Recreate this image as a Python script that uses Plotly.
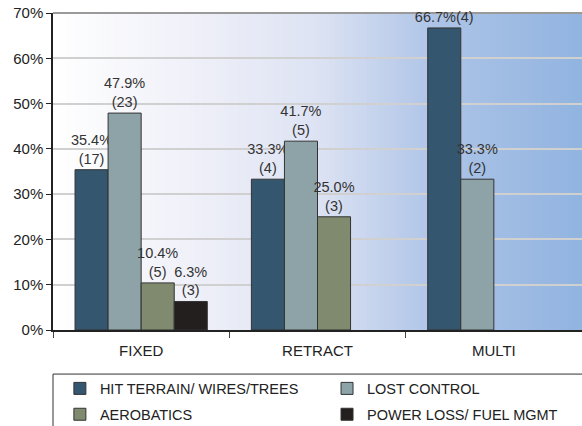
import plotly.graph_objects as go

categories = ["FIXED", "RETRACT", "MULTI"]
series_names = ["HIT TERRAIN/ WIRES/TREES", "LOST CONTROL", "AEROBATICS", "POWER LOSS/ FUEL MGMT"]
hit_terrain = [35.4, 33.3, 66.7]
lost_control = [47.9, 41.7, 33.3]
aerobatics = [10.4, 25.0, None]
power_loss = [6.3, None, None]
hit_counts = [17, 4, 4]
lost_counts = [23, 5, 2]
aero_counts = [5, 3, None]
power_counts = [3, None, None]
colors = ["#34566f", "#8ea3a8", "#7f8a6e", "#231f1e"]
y_ticks = [0, 10, 20, 30, 40, 50, 60, 70]

def make_labels(vals, counts, single_line_idx=()):
    out = []
    for i, (v, c) in enumerate(zip(vals, counts)):
        if v is None:
            out.append("")
        elif i in single_line_idx:
            out.append(f"{v:.1f}%({c})")
        else:
            out.append(f"{v:.1f}%<br>({c})")
    return out

all_vals = [hit_terrain, lost_control, aerobatics, power_loss]
all_labels = [
    make_labels(hit_terrain, hit_counts, single_line_idx=(2,)),
    make_labels(lost_control, lost_counts),
    make_labels(aerobatics, aero_counts),
    make_labels(power_loss, power_counts),
]
legend_ids = ["legend", "legend2", "legend", "legend2"]

FONT = "Liberation Sans, Arial, sans-serif"
fig = go.Figure()
for i, (name, vals, labels, col) in enumerate(zip(series_names, all_vals, all_labels, colors)):
    fig.add_trace(go.Bar(
        name=name, x=categories, y=vals, text=labels,
        textposition="outside", cliponaxis=False, constraintext="none",
        textfont=dict(family=FONT, size=14.5, color="#333333"),
        marker=dict(color=col, line=dict(color="#333333", width=1)),
        legend=legend_ids[i], legendgroup=f"g{i}",
    ))

# gradient background strips
stops = [(0.0, (255, 255, 255)), (0.25, (240, 241, 249)), (0.5, (221, 227, 243)),
         (0.72, (174, 196, 231)), (1.0, (145, 180, 224))]
def interp(t):
    for (t0, c0), (t1, c1) in zip(stops[:-1], stops[1:]):
        if t0 <= t <= t1:
            f = (t - t0) / (t1 - t0) if t1 > t0 else 0
            return tuple(round(a + (b - a) * f) for a, b in zip(c0, c1))
    return stops[-1][1]

shapes = []
N = 120
for i in range(N):
    c = interp((i + 0.5) / N)
    shapes.append(dict(type="rect", xref="paper", yref="paper", x0=i / N, x1=(i + 1) / N + 0.002,
                       y0=0, y1=1, fillcolor=f"rgb{c}", line=dict(width=0), layer="below"))
# top border line
shapes.append(dict(type="line", xref="paper", yref="paper", x0=0, x1=1, y0=1, y1=1,
                   line=dict(color="#9a9a9a", width=2), layer="below"))
# legend box
shapes.append(dict(type="rect", xref="paper", yref="paper", x0=0, x1=1.2, y0=-0.139, y1=-0.5,
                   line=dict(color="#333333", width=1), fillcolor="rgba(0,0,0,0)"))

leg_common = dict(orientation="v", xanchor="left", yanchor="top",
                  y=-0.134, font=dict(family=FONT, size=14.5, color="#222222"),
                  bgcolor="rgba(0,0,0,0)", borderwidth=0, tracegroupgap=4, traceorder="grouped")

fig.update_layout(
    width=582, height=426,
    margin=dict(l=53, r=0, t=13, b=96, autoexpand=False),
    paper_bgcolor="white", plot_bgcolor="rgba(0,0,0,0)",
    barmode="group", bargap=0.25, bargroupgap=0,
    font=dict(family=FONT, size=15, color="#222222"),
    shapes=shapes,
    showlegend=True,
    legend=dict(x=0.013, **leg_common),
    legend2=dict(x=0.518, **leg_common),
    xaxis=dict(showline=True, linecolor="#222222", linewidth=1.5, ticks="outside",
               tickson="boundaries", ticklen=6, tickcolor="#444444",
               tickfont=dict(size=15), showgrid=False, ticklabelstandoff=6),
    yaxis=dict(range=[0, 70], tickvals=y_ticks, ticktext=[f"{t}%" for t in y_ticks],
               showline=True, linecolor="#222222", linewidth=1.5, ticks="outside",
               ticklen=5, tickcolor="#222222", gridcolor="#d0d0d0", gridwidth=1.5,
               tickfont=dict(size=15), zeroline=False),
)
fig.write_html("out.html", config={"displayModeBar": False},
               post_script="document.body.style.margin='0';document.body.style.overflow='hidden';")
